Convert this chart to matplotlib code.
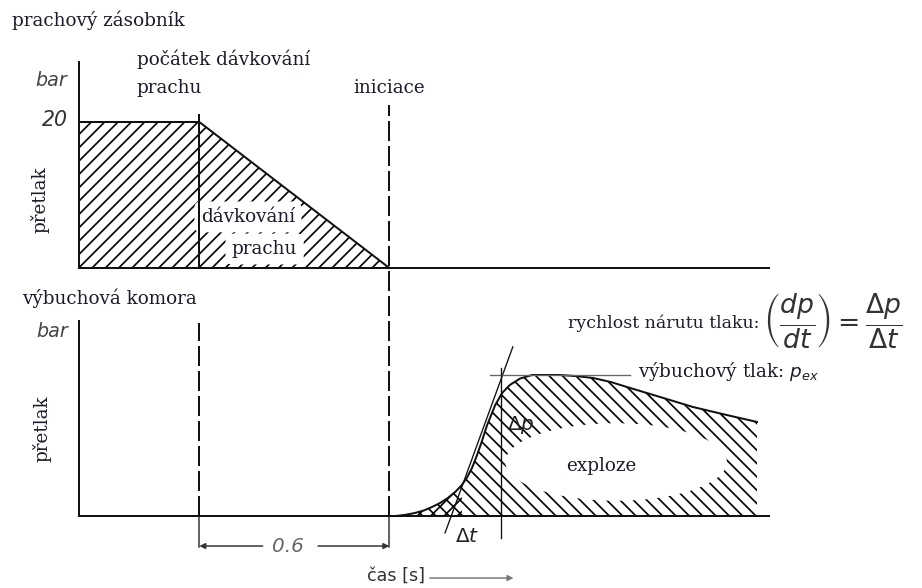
import matplotlib
matplotlib.use('Agg')
import matplotlib.pyplot as plt
from matplotlib.patches import Ellipse

DPI = 120
W, H = 922, 588

# time axis [s]
t_dose = 0.38      # start of dust dosing
t_init = 0.98      # ignition, 0.6 s later
t_end = 2.18
t_gap = 0.6

# dust container: overpressure [bar]
p_store = 20
p_axis_top = 28.2
store_t = [0, 0, t_dose, t_init]
store_p = [0, p_store, p_store, 0]

# explosion chamber: overpressure relative to p_ex
expl_t = [0.98, 1.00, 1.03, 1.06, 1.09, 1.115, 1.14, 1.165, 1.19, 1.209, 1.225, 1.241,
          1.255, 1.27, 1.288, 1.314, 1.336, 1.361, 1.393, 1.431, 1.519, 1.57, 1.623, 1.68,
          1.730, 1.835, 1.939, 2.046, 2.141]
expl_p = [0.0, 0.0, 0.008, 0.021, 0.04, 0.064, 0.092, 0.128, 0.175, 0.22, 0.272, 0.34,
          0.42, 0.515, 0.64, 0.785, 0.872, 0.93, 0.975, 1.0, 1.0, 0.992, 0.979, 0.95,
          0.915, 0.844, 0.773, 0.716, 0.667]
chamber_axis_top = 1.38
p_ex = 1.0
tangent_t = [1.156, 1.370]
tangent_p = [-0.12, 1.20]
pex_line_t = [1.298, 1.740]
t_dp = 1.333
t_cross_end = 1.21

plt.rcParams['mathtext.fontset'] = 'dejavusans'
plt.rcParams['hatch.linewidth'] = 1.0
plt.rcParams['hatch.color'] = 'black'

fig = plt.figure(figsize=(W / DPI, H / DPI), dpi=DPI)
X0 = 79
PX_S = 190 / t_gap


def make_axes(top_px, bottom_px, base_px, unit_px):
    ax = fig.add_axes([0, 1 - bottom_px / H, 1, (bottom_px - top_px) / H])
    ax.set_xlim(-X0 / PX_S, (W - X0) / PX_S)
    ax.set_ylim((base_px - bottom_px) / unit_px, (base_px - top_px) / unit_px)
    ax.axis('off')
    return ax


ax1 = make_axes(0, 290, 268, 7.3)
ax2 = make_axes(290, 588, 516, 141)

ink = '#111111'
serif = dict(family='DejaVu Serif', fontsize=11, color='#1c1c2a')
lw = 1.2
dash = (10, 2.5)

# ---- top panel: dust container ----
ax1.fill(store_t, store_p, facecolor='none', edgecolor='black', hatch='///', linewidth=0, zorder=1)
ax1.plot([0, 0], [0, p_axis_top], color=ink, lw=lw, zorder=4)
ax1.plot([0, t_end], [0, 0], color=ink, lw=lw, zorder=4)
ax1.plot(store_t[1:], store_p[1:], color=ink, lw=lw, zorder=4)
ax1.plot([t_dose, t_dose], [0, p_store + 1], color=ink, lw=lw, zorder=4)
ax1.plot([t_init, t_init], [-3.1, 22.3], color=ink, lw=lw, dashes=dash, zorder=4, clip_on=False)

ax1.text(-0.2116, 33.97, 'prachový zásobník', ha='left', va='center', **serif)
ax1.text(-0.038, 25.75, 'bar', ha='right', va='center', fontsize=11.5, style='italic', color='#444')
ax1.text(-0.035, 20.3, '20', ha='right', va='center', fontsize=12.3, style='italic', color='#333')
ax1.text(-0.123, 9.3, 'přetlak', ha='center', va='center', rotation=90, **serif)
ax1.text(0.183, 28.6, 'počátek dávkování', ha='left', va='center', **serif)
ax1.text(0.183, 24.66, 'prachu', ha='left', va='center', **serif)
ax1.text(0.865, 24.66, 'iniciace', ha='left', va='center', **serif)
blank = dict(boxstyle='round,pad=0.35', fc='white', ec='none')
ax1.text(0.385, 7.0, 'dávkování', ha='left', va='center', zorder=3, bbox=blank, **serif)
ax1.text(0.483, 2.6, 'prachu', ha='left', va='center', zorder=3, bbox=blank, **serif)

# ---- bottom panel: explosion chamber ----
ax2.fill_between(expl_t, expl_p, 0, facecolor='none', edgecolor='black', hatch='\\\\\\',
                 linewidth=0, zorder=1)
foot = [i for i, t in enumerate(expl_t) if t <= t_cross_end]
ax2.fill_between([expl_t[i] for i in foot], [expl_p[i] for i in foot], 0, facecolor='none',
                 edgecolor='black', hatch='///', linewidth=0, zorder=1)
ax2.add_patch(Ellipse((1.696, 0.383), 0.70, 0.55, facecolor='white', edgecolor='none', zorder=2))
ax2.plot([0, 0], [0, chamber_axis_top], color=ink, lw=lw, zorder=4)
ax2.plot([0, t_end], [0, 0], color=ink, lw=lw, zorder=4)
ax2.plot(expl_t, expl_p, color=ink, lw=lw, zorder=4)
ax2.plot(tangent_t, tangent_p, color=ink, lw=0.8, zorder=4)
ax2.plot(pex_line_t, [p_ex, p_ex], color='#666', lw=0.8, zorder=4)
ax2.plot([t_dp, t_dp], [-0.156, 1.05], color=ink, lw=0.8, zorder=4)
ax2.plot([t_dose, t_dose], [0, 1.369], color=ink, lw=lw, dashes=dash, zorder=4)
ax2.plot([t_init, t_init], [0, 1.61], color=ink, lw=lw, dashes=dash, zorder=4, clip_on=False)

# 0.6 s dimension
y_dim = -0.213
ax2.plot([t_dose, t_dose], [0, y_dim - 0.01], color='#333', lw=0.9)
ax2.plot([t_init, t_init], [0, y_dim - 0.01], color='#333', lw=0.9)
arrow = dict(arrowstyle='-|>', color='#333', lw=0.9, mutation_scale=7, shrinkA=0, shrinkB=0)
ax2.annotate('', xy=(t_dose, y_dim), xytext=(t_dose + 0.2, y_dim), arrowprops=arrow)
ax2.annotate('', xy=(t_init, y_dim), xytext=(t_init - 0.225, y_dim), arrowprops=arrow)
ax2.text((t_dose + t_init) / 2 - 0.02, y_dim, f'{t_gap}', ha='center', va='center',
         fontsize=12, style='italic', color='#666')

ax2.text(0.909, -0.426, 'čas [s]', ha='left', va='center', fontsize=10.5, color='#333')
ax2.annotate('', xy=(1.372, -0.44), xytext=(1.108, -0.44),
             arrowprops=dict(arrowstyle='-|>', color='#777', lw=0.9, mutation_scale=7,
                             shrinkA=0, shrinkB=0))

ax2.text(-0.18, 1.546, 'výbuchová komora', ha='left', va='center', **serif)
ax2.text(-0.035, 1.305, 'bar', ha='right', va='center', fontsize=11.5, style='italic', color='#444')
ax2.text(-0.117, 0.617, 'přetlak', ha='center', va='center', rotation=90, **serif)
ax2.text(1.544, 1.369, 'rychlost nárutu tlaku:', ha='left', va='center',
         **dict(serif, fontsize=10.4))
ax2.text(2.16, 1.376, r'$\left(\dfrac{dp}{dt}\right) = \dfrac{\Delta p}{\Delta t}$',
         ha='left', va='center', fontsize=16, color='#333')
ax2.text(1.765, 1.028, 'výbuchový tlak: $p_{ex}$', ha='left', va='center', **serif)
ax2.text(1.352, 0.645, r'$\Delta p$', ha='left', va='center', fontsize=12, color='#222', zorder=5)
ax2.text(1.187, -0.142, r'$\Delta t$', ha='left', va='center', fontsize=12, color='#222')
ax2.text(1.648, 0.355, 'exploze', ha='center', va='center', zorder=3, **serif)

fig.savefig('out.png', dpi=DPI)
